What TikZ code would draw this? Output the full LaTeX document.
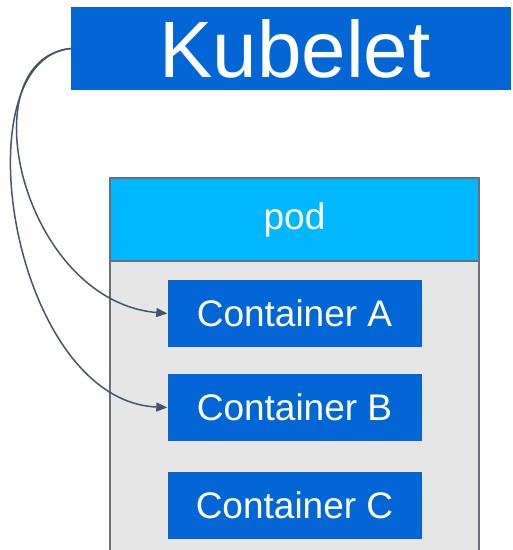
\documentclass[tikz,border=0pt]{standalone}
\usepackage{fontspec}
\setmainfont{Liberation Sans}
\usetikzlibrary{arrows.meta}
\definecolor{kblue}{HTML}{0366D6}
\definecolor{podcyan}{HTML}{00B8FF}
\definecolor{podgray}{HTML}{E6E6E6}
\definecolor{edgegray}{HTML}{6A707A}
\definecolor{linkslate}{HTML}{44546A}
\tikzset{
  box/.style={rectangle, inner sep=0pt, text=white, anchor=center},
  kubebox/.style={box, fill=kblue, minimum width=440pt, minimum height=83pt,
    font=\fontsize{80}{80}\selectfont},
  ctrbox/.style={box, fill=kblue, minimum width=254pt, minimum height=67pt,
    font=\fontsize{37}{37}\selectfont},
  podbody/.style={rectangle, inner sep=0pt, fill=podgray, draw=edgegray,
    line width=1.5pt, minimum width=369pt, minimum height=382pt},
  podhead/.style={box, fill=podcyan, draw=edgegray, line width=1.5pt,
    minimum width=369pt, minimum height=83pt, font=\fontsize{37}{37}\selectfont},
  link/.style={draw=linkslate, line width=1.5pt,
    -{Triangle[length=11pt,width=9pt]}}
}
\begin{document}
\begin{tikzpicture}[x=1pt, y=-1pt]
  \useasboundingbox (0,0) rectangle (513,550);
  \clip (0,0) rectangle (513,550);

  % pod frame and its header
  \node[podbody] (pod) at (294.5,369) {};
  \node[podhead] (podtitle) at (294.5,219.5) {pod};

  % containers inside the pod
  \node[ctrbox] (ca) at (294.5,313.5) {Container A};
  \node[ctrbox] (cb) at (294.5,407.5) {Container B};
  \node[ctrbox] (cc) at (294.5,505.5) {Container C};

  % kubelet banner
  \node[kubebox] (kube) at (291,48.5) {\hspace*{8pt}Kubelet};

  % kubelet manages containers A and B
  \draw[link] (kube.west) .. controls +(-104,11) and +(-146,-13) .. (ca.west);
  \draw[link] (kube.west) .. controls +(-112,11) and +(-156,-7) .. (cb.west);
\end{tikzpicture}
\end{document}
